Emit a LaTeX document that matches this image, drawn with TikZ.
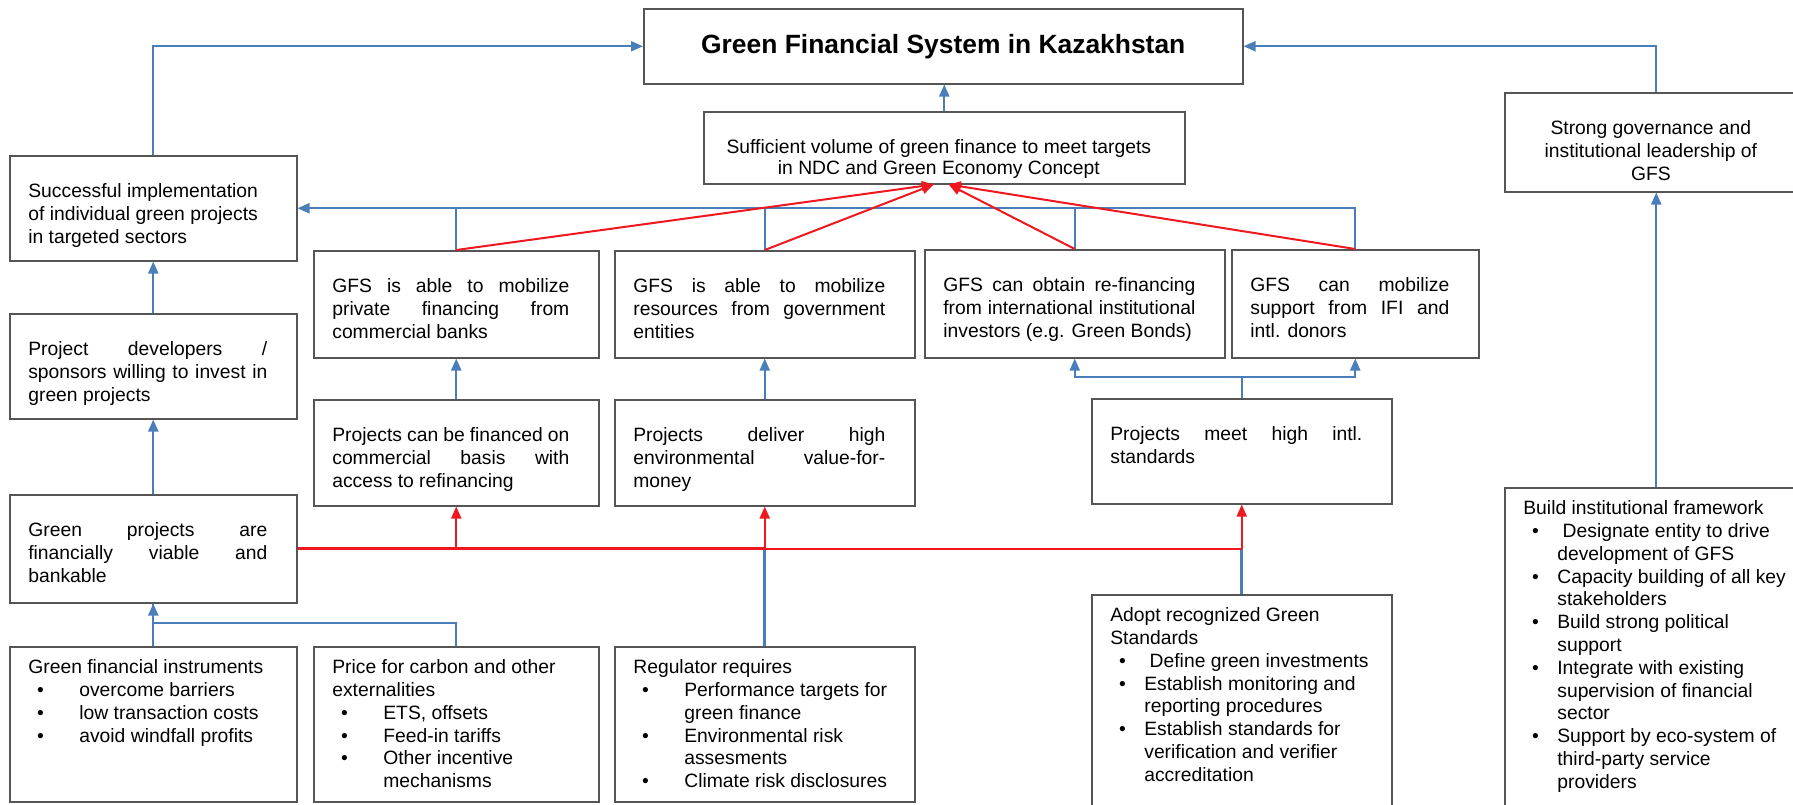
\documentclass[tikz,border=0pt]{standalone}
\usepackage{fontspec}
\setmainfont{Liberation Sans}
\usetikzlibrary{arrows.meta}

\definecolor{linkblue}{RGB}{74,126,187}
\definecolor{linkred}{RGB}{238,24,30}
\definecolor{edge}{RGB}{85,85,85}

% text cells: box width, box height, text
\newcommand{\upcell}[3]{\hspace*{9.3pt}\parbox[c][#2][t]{\dimexpr#1-24pt\relax}{\vspace*{13pt}\sloppy\strut#3}\hspace*{14.7pt}}
\newcommand{\lowcell}[3]{\hspace*{9.3pt}\parbox[c][#2][t]{\dimexpr#1-18.6pt\relax}{\vspace*{5.5pt}\raggedright\strut#3}\hspace*{9.3pt}}
\newcommand{\itm}[1][25.5pt]{\par\hangindent=#1\hangafter=1\noindent\makebox[#1][l]{\hspace{4.4pt}\textbullet}}

\begin{document}
\begin{tikzpicture}[x=0.5pt, y=-0.5pt,
  box/.style={draw=edge, line width=0.75pt, anchor=north west, inner sep=0pt,
    font=\fontsize{9.65pt}{11.4pt}\selectfont},
  link/.style={draw=linkblue, line width=1pt},
  flow/.style={draw=linkred, line width=1pt},
  >={Triangle[length=6pt,width=5pt]}]
  \useasboundingbox (0,0) rectangle (1793,804);

  \node[box, minimum width=299.5pt, minimum height=37.5pt,
    font=\fontsize{13.2pt}{15pt}\selectfont\bfseries] (gfs) at (643,8) {Green Financial System in Kazakhstan};
  \node[box] (suff) at (703,111) {\upcell{240.5pt}{36pt}{\fontsize{9.65pt}{10.6pt}\selectfont\centering
    Sufficient volume of green finance to meet targets\\ in NDC and Green Economy Concept}};
  \node[box] (strong) at (1504,92) {\upcell{151.5pt}{49.5pt}{\centering
    Strong governance and\\ institutional leadership of\\ GFS}};

  \node[box] (succ) at (9,155) {\upcell{143.5pt}{52.5pt}{Successful implementation\newline
    of individual green projects\newline in targeted sectors}};
  \node[box] (dev) at (9,313) {\upcell{143.5pt}{52.5pt}{Project developers /\linebreak
    sponsors willing to invest in\linebreak green projects}};
  \node[box] (viable) at (9,494) {\upcell{143.5pt}{54pt}{Green projects are\linebreak
    financially viable and\linebreak bankable}};

  \node[box] (gfsone) at (313,250) {\upcell{142.5pt}{53.5pt}{GFS is able to mobilize\linebreak
    private financing from\linebreak commercial banks}};
  \node[box] (gfstwo) at (614,250) {\upcell{150pt}{53.5pt}{GFS is able to mobilize\linebreak
    resources from government\linebreak entities}};
  \node[box] (gfsthree) at (924,249) {\upcell{150pt}{54pt}{GFS can obtain re-financing\linebreak
    from international institutional\linebreak investors (e.g. Green Bonds)}};
  \node[box] (gfsfour) at (1231,249) {\upcell{123.5pt}{54pt}{GFS can mobilize\linebreak
    support from IFI and\linebreak intl. donors}};

  \node[box] (fin) at (313,399) {\upcell{142.5pt}{53pt}{Projects can be financed on\linebreak
    commercial basis with\linebreak access to refinancing}};
  \node[box] (deliver) at (614,399) {\upcell{150pt}{53pt}{Projects deliver high\linebreak
    environmental value-for-\linebreak money}};
  \node[box] (meet) at (1091,398) {\upcell{150pt}{52.5pt}{Projects meet high intl.\linebreak
    standards}};

  \node[box] (instr) at (9,646) {\lowcell{143.5pt}{77.5pt}{Green financial instruments
    \itm overcome barriers\itm low transaction costs\itm avoid windfall profits}};
  \node[box] (price) at (313,646) {\lowcell{142.5pt}{77.5pt}{Price for carbon and other\newline externalities
    \itm ETS, offsets\itm Feed-in tariffs\itm Other incentive\newline mechanisms}};
  \node[box] (reg) at (614,646) {\lowcell{150pt}{77.5pt}{Regulator requires
    \itm Performance targets for\newline green finance\itm Environmental risk\newline assesments
    \itm Climate risk disclosures}};
  \node[box] (adopt) at (1091,594) {\lowcell{150pt}{108pt}{Adopt recognized Green\newline Standards
    \itm[17pt]\ Define green investments
    \itm[17pt]Establish monitoring and\newline reporting procedures
    \itm[17pt]Establish standards for\newline verification and verifier\newline accreditation}};
  \node[box] (build) at (1504,487) {\lowcell{151.5pt}{162pt}{Build institutional framework
    \itm[17pt]\ Designate entity to drive\newline development of GFS
    \itm[17pt]Capacity building of all key\newline stakeholders
    \itm[17pt]Build strong political\newline support
    \itm[17pt]Integrate with existing\newline supervision of financial\newline sector
    \itm[17pt]Support by eco-system of\newline third-party service\newline providers}};

  \draw[link,->] (succ.north) |- (gfs.west);
  \draw[link,->] (strong.north) |- (gfs.east);
  \draw[link,->] (suff.north) -- (suff.north |- gfs.south);
  \draw[link,->] (gfsfour.north) |- (succ.east);
  \foreach \n in {gfsone,gfstwo,gfsthree}
    \draw[link] (\n.north) -- (\n.north |- succ.east);
  \draw[link,->] (dev.north) -- (succ.south);
  \draw[link,->] (viable.north) -- (dev.south);
  \draw[link,->] (fin.north) -- (gfsone.south);
  \draw[link,->] (deliver.north) -- (gfstwo.south);
  \draw[link,->] (meet.north) -- ++(0,-21) -| (gfsthree.south);
  \draw[link,->] (meet.north) -- ++(0,-21) -| (gfsfour.south);
  \draw[link,->] (instr.north) -- (viable.south);
  \draw[link] (price.north) -- ++(0,-23) -| (viable.south);
  \draw[link,->] (build.north) -- (strong.south);
  \draw[link, line width=1.6pt] (reg.north) -- (reg.north |- viable.east);
  \draw[link, line width=1.6pt] (adopt.north) -- (adopt.north |- viable.east);

  \draw[flow,->] (gfsone.north) -- ([xshift=-5.25pt]suff.south);
  \draw[flow,->] (gfstwo.north) -- ([xshift=-5.25pt]suff.south);
  \draw[flow,->] (gfsthree.north) -- ([xshift=2.25pt]suff.south);
  \draw[flow,->] (gfsfour.north) -- ([xshift=2.25pt]suff.south);
  \draw[flow, line width=1.5pt] (viable.east) -- (reg.north |- viable.east);
  \draw[flow] (reg.north |- viable.east) -- (meet.south |- viable.east);
  \foreach \n in {fin,deliver,meet}
    \draw[flow,->] (\n.south |- viable.east) -- (\n.south);
\end{tikzpicture}
\end{document}
